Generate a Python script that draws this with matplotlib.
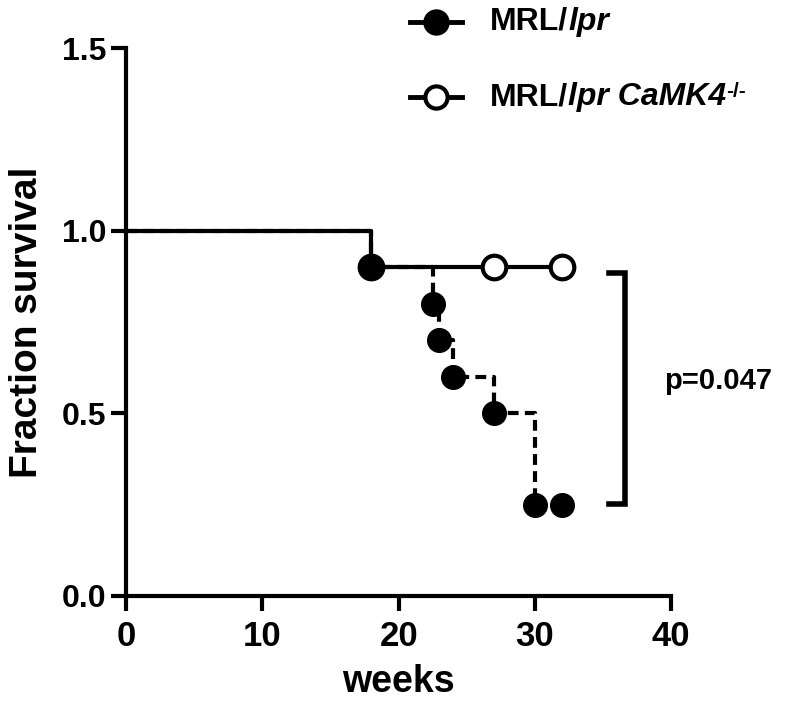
import matplotlib
matplotlib.use("Agg")
import matplotlib.pyplot as plt
from matplotlib.lines import Line2D

# Data
lpr_weeks = [0, 18, 22.5, 23, 24, 27, 30, 32]
lpr_surv = [1.0, 0.9, 0.8, 0.7, 0.6, 0.5, 0.25, 0.25]
camk_weeks = [0, 18, 27, 32]
camk_surv = [1.0, 0.9, 0.9, 0.9]
xticks = [0, 10, 20, 30, 40]
yticks = [0.0, 0.5, 1.0, 1.5]
ytick_labels = ["0.0", "0.5", "1.0", "1.5"]
p_text = "p=0.047"
bracket_x = [35.4, 36.6, 36.6, 35.4]
bracket_y = [0.885, 0.885, 0.252, 0.252]

plt.rcParams['font.family'] = ['Liberation Sans', 'DejaVu Sans']
plt.rcParams['font.weight'] = 'bold'

fig = plt.figure(figsize=(8.0, 7.08), dpi=100)
ax = fig.add_axes([0.1575, 0.1582, 0.839 - 0.1575, 0.932 - 0.1582])

lw = 3.0
# CaMK4-/- solid
ax.plot(camk_weeks, camk_surv, drawstyle='steps-post', color='black', lw=lw,
        solid_capstyle='butt', zorder=2)
ax.plot(camk_weeks[1:], camk_surv[1:], ls='none', marker='o', ms=17,
        mfc='white', mec='black', mew=3, zorder=3)
# MRL/lpr dashed
ax.plot(lpr_weeks, lpr_surv, drawstyle='steps-post', color='black', lw=lw,
        ls=(0, (2.6, 1.5)), dash_capstyle='butt', zorder=2)
ax.plot(lpr_weeks[1:], lpr_surv[1:], ls='none', marker='o', ms=17,
        mfc='black', mec='black', zorder=4)

# bracket + p value
ax.plot(bracket_x, bracket_y, color='black', lw=4, solid_joinstyle='miter',
        clip_on=False)
ax.text(39.5, 0.59, p_text, fontsize=21, fontweight='bold', va='center', ha='left')

ax.set_xlim(0, 40)
ax.set_ylim(0, 1.5)
ax.set_xticks(xticks)
ax.set_yticks(yticks)
ax.set_yticklabels(ytick_labels)
for s in ['top', 'right']:
    ax.spines[s].set_visible(False)
for s in ['left', 'bottom']:
    ax.spines[s].set_linewidth(3)
ax.tick_params(width=3, length=11, direction='out')
ax.tick_params(axis='y', labelsize=23, pad=3)
ax.tick_params(axis='x', labelsize=25, pad=6)
for t in ax.get_xticklabels() + ax.get_yticklabels():
    t.set_fontweight('bold')

ax.set_xlabel('weeks', fontsize=27, fontweight='bold', labelpad=8)
ax.set_ylabel('Fraction survival', fontsize=28, fontweight='bold', labelpad=12)

# custom legend
def legend_row(y_px, filled, parts):
    yf = 1 - y_px / 708
    fig.add_artist(Line2D([410 / 800, 462 / 800], [yf, yf], color='black', lw=3.5,
                          transform=fig.transFigure))
    fig.add_artist(Line2D([436 / 800], [yf], marker='o', ms=16,
                          mfc='black' if filled else 'white', mec='black', mew=3,
                          transform=fig.transFigure))
    prev = None
    for txt, style, sup in parts:
        kw = dict(fontsize=15 if sup else 23, fontweight='bold', style=style)
        if prev is None:
            prev = fig.text(490 / 800, yf, txt, va='center', ha='left', **kw)
        elif sup:
            prev = ax.annotate(txt, xy=(1.0, 1.0), xycoords=prev, va='top',
                               ha='left', annotation_clip=False, **kw)
        else:
            prev = ax.annotate(txt, xy=(1, 0), xycoords=prev, va='bottom', ha='left',
                               annotation_clip=False, **kw)

legend_row(22, True, [("MRL/", 'normal', False), ("lpr", 'italic', False)])
legend_row(97, False, [("MRL/", 'normal', False), ("lpr CaMK4", 'italic', False),
                       ("-/-", 'normal', True)])

fig.savefig('out.png', dpi=100)
